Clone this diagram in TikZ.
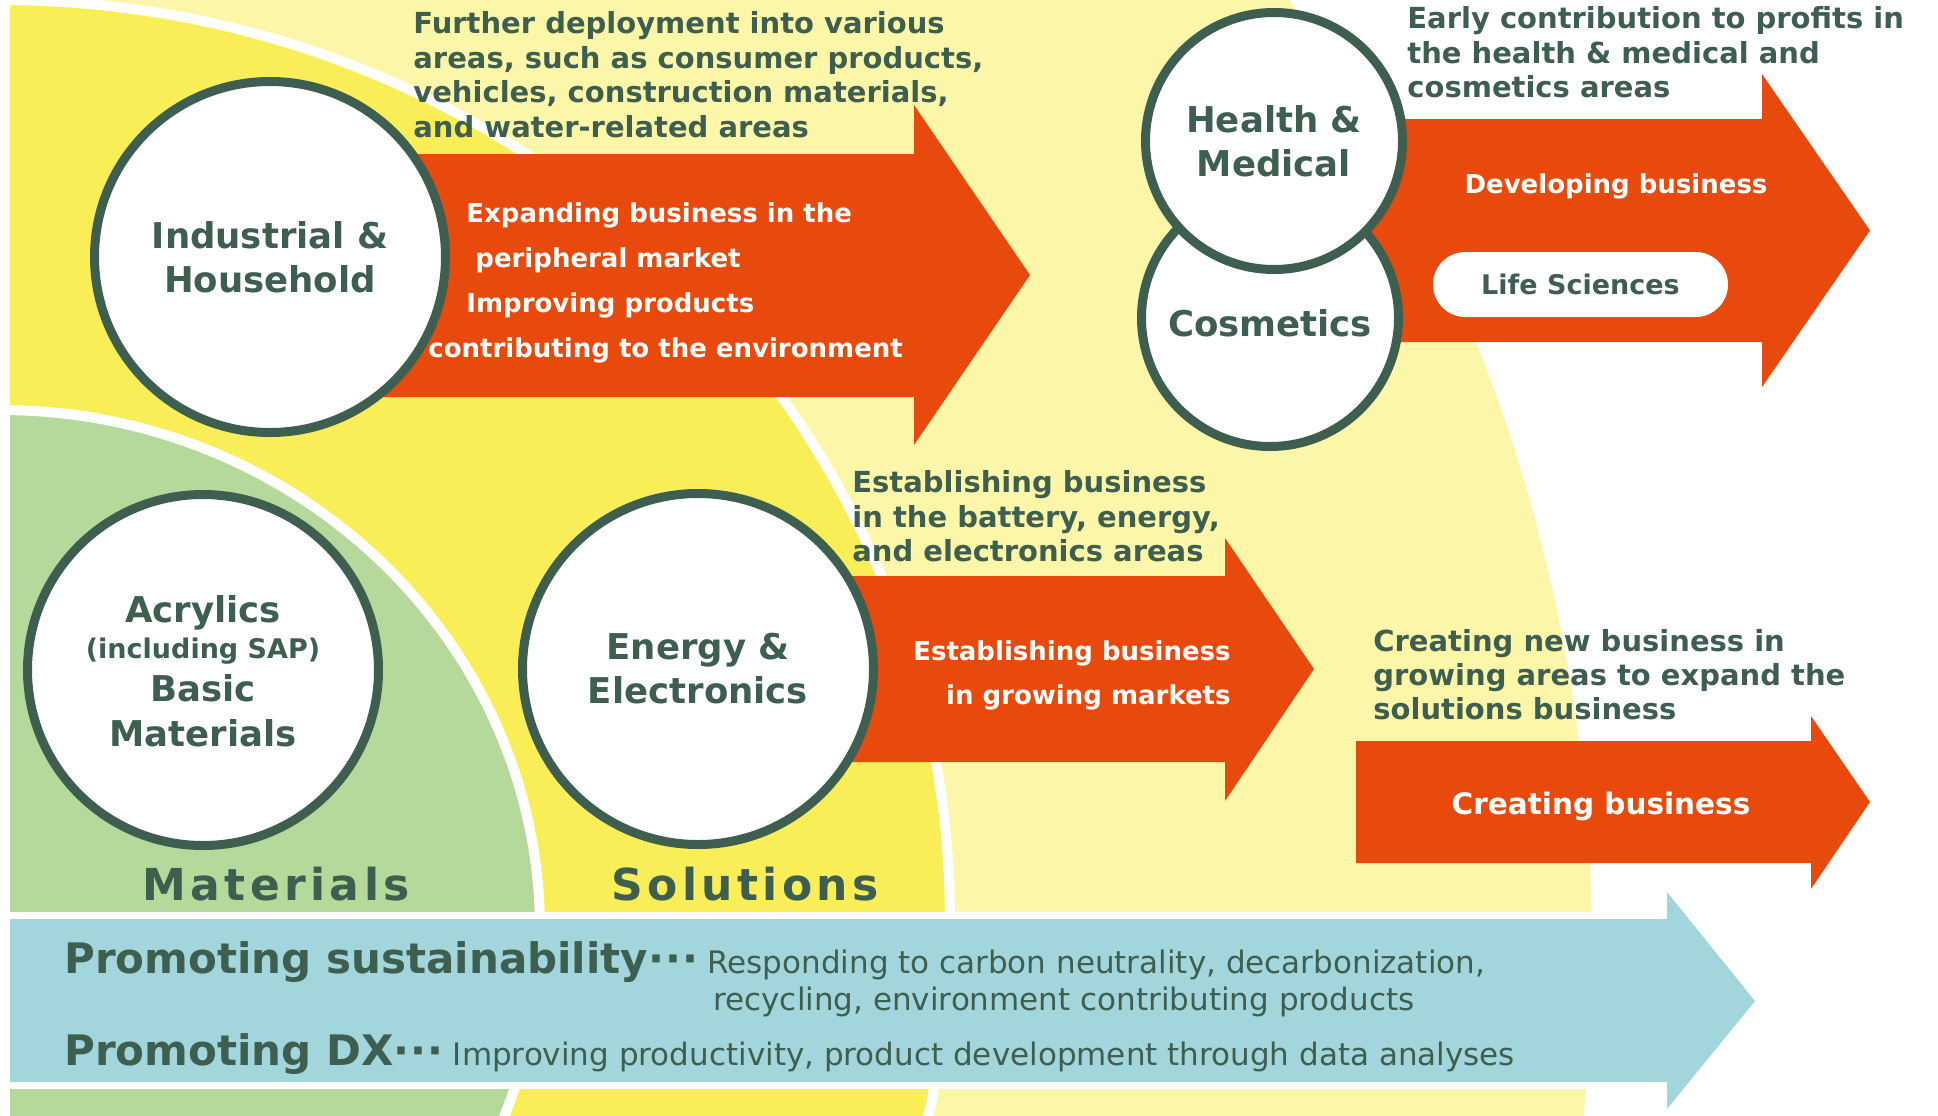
\documentclass[tikz,border=0pt]{standalone}
\usepackage{fontspec}
\setmainfont{DejaVu Sans}
\newfontfamily\dvls{DejaVu Sans}[LetterSpace=10]
\definecolor{dkg}{RGB}{62,94,80}
\definecolor{orng}{RGB}{232,74,13}
\definecolor{grn}{RGB}{180,217,154}
\definecolor{yel}{RGB}{249,238,87}
\definecolor{pale}{RGB}{252,246,168}
\definecolor{blu}{RGB}{162,214,220}
\newcommand\fAnn{\bfseries\fontsize{14.5pt}{17pt}\selectfont}
\newcommand\fArr{\bfseries\fontsize{13pt}{16pt}\selectfont}
\newcommand\fLife{\bfseries\fontsize{13.5pt}{16pt}\selectfont}
\newcommand\fCre{\bfseries\fontsize{14.75pt}{17pt}\selectfont}
\newcommand\fCirc{\bfseries\fontsize{17.75pt}{22pt}\selectfont}
\newcommand\fSap{\bfseries\fontsize{13.5pt}{16pt}\selectfont}
\newcommand\fSeg{\dvls\bfseries\fontsize{22pt}{26pt}\selectfont}
\newcommand\fProm{\bfseries\fontsize{21pt}{25pt}\selectfont}
\newcommand\fReg{\mdseries\fontsize{15.5pt}{18pt}\selectfont}
\newcommand\dotsep{{\fProm·\kern0.6pt·\kern0.6pt·}\kern4.5pt}
\tikzset{
  ann/.style={inner sep=0pt, anchor=base west, text=dkg, font=\fAnn},
  wt/.style={inner sep=0pt, anchor=base west, text=white, font=\fArr},
  bigc/.style={circle, draw=dkg, line width=4.5pt, fill=white, minimum size=175.5pt, inner sep=0pt, align=center, text=dkg, font=\fCirc},
  smc/.style={circle, draw=dkg, line width=4.5pt, fill=white, minimum size=128.5pt, inner sep=0pt, align=center, text=dkg, font=\fCirc},
  clab/.style={inner sep=0pt, anchor=base, text=dkg, font=\fCirc},
  seg/.style={inner sep=0pt, anchor=base west, text=dkg, font=\fSeg},
  band/.style={inner sep=0pt, anchor=base west, text=dkg, font=\fReg},
  pill/.style={rectangle, rounded corners=16.25pt, fill=white, minimum width=147.5pt, minimum height=32.5pt, inner sep=0pt, text=dkg, font=\fLife},
  barrow/.style={fill=orng},
}
\begin{document}
\begin{tikzpicture}[x=0.5pt,y=-0.5pt]
\useasboundingbox (0,0) rectangle (1938,1115);
% background regions
\begin{scope}
  \clip (10,0) rectangle (1938,1115);
  \fill[pale] (0,950) ellipse [x radius=796pt, y radius=810pt];
  \filldraw[fill=yel, draw=white, line width=5pt] (0,920) ellipse [x radius=475pt, y radius=460pt];
  \filldraw[fill=grn, draw=white, line width=5pt] (0,930) ellipse [x radius=270pt, y radius=260pt];
\end{scope}
\fill[white] (0,912) rectangle (1938,1089);
% blue band arrow
\fill[blu] (10,919) -- (1667,919) -- (1667,892) -- (1755,1001) -- (1667,1109) -- (1667,1082) -- (10,1082) -- cycle;
% orange arrows
\fill[barrow] (270,154) -- (914,154) -- (914,105) -- (1030,275) -- (914,445) -- (914,397) -- (270,397) -- cycle;
\fill[barrow] (698,576) -- (1225,576) -- (1225,538) -- (1314,669) -- (1225,801) -- (1225,762) -- (698,762) -- cycle;
\fill[barrow] (1272,119) -- (1762,119) -- (1762,74) -- (1870,230.5) -- (1762,387) -- (1762,342) -- (1272,342) -- cycle;
\fill[barrow] (1356,741) -- (1811,741) -- (1811,716) -- (1870,802) -- (1811,889) -- (1811,863) -- (1356,863) -- cycle;
% circles
\node[bigc] (ind) at (270,257) {Industrial \&\\Household};
\node[bigc] (acr) at (203,670) {};
\node[bigc] (ene) at (698,669) {Energy \&\\Electronics};
\node[smc] (cos) at (1270,318) {};
\node[smc] (hea) at (1274,141) {Health \&\\Medical};
\node[clab] (cos1) at (1270,336) {Cosmetics};
\node[clab] (acr1) at (203,622) {Acrylics};
\node[clab, font=\fSap] (acr2) at (203,658) {(including SAP)};
\node[clab] (acr3) at (203,701) {Basic};
\node[clab] (acr4) at (203,746) {Materials};
% annotations
\node[ann] (t1a) at (413,33) {Further deployment into various};
\node[ann] (t1b) at (413,68) {areas, such as consumer products,};
\node[ann] (t1c) at (413,102) {vehicles, construction materials,};
\node[ann] (t1d) at (413,137) {and water-related areas};
\node[ann] (t2a) at (1407,28) {Early contribution to profits in};
\node[ann] (t2b) at (1407,63) {the health \& medical and};
\node[ann] (t2c) at (1407,97) {cosmetics areas};
\node[ann] (t3a) at (852,492) {Establishing business};
\node[ann] (t3b) at (852,527) {in the battery, energy,};
\node[ann] (t3c) at (852,561) {and electronics areas};
\node[ann] (t4a) at (1373,651) {Creating new business in};
\node[ann] (t4b) at (1373,685) {growing areas to expand the};
\node[ann] (t4c) at (1373,719) {solutions business};
% arrow texts
\node[wt] (a1a) at (466,222) {Expanding business in the};
\node[wt] (a1b) at (475,267) {peripheral market};
\node[wt] (a1c) at (466,312) {Improving products};
\node[wt] (a1d) at (428,357) {contributing to the environment};
\node[wt, anchor=base east] (a2a) at (1231,660) {Establishing business};
\node[wt, anchor=base east] (a2b) at (1231,704) {in growing markets};
\node[wt, anchor=base] (a3a) at (1616,193) {Developing business};
\node[pill] (life) at (1580.5,284.5) {Life Sciences};
\node[wt, anchor=base, font=\fCre] (a4a) at (1601,814) {Creating business};
% segment labels
\node[seg] (mat) at (142,900) {Materials};
\node[seg] (sol) at (611,900) {Solutions};
% band texts
\node[band] (b1) at (64,973) {{\fProm Promoting sustainability}\dotsep Responding to carbon neutrality, decarbonization,};
\node[band] (b2) at (713,1010) {recycling, environment contributing products};
\node[band] (b3) at (64,1065) {{\fProm Promoting DX}\dotsep Improving productivity, product development through data analyses};
\end{tikzpicture}
\end{document}
